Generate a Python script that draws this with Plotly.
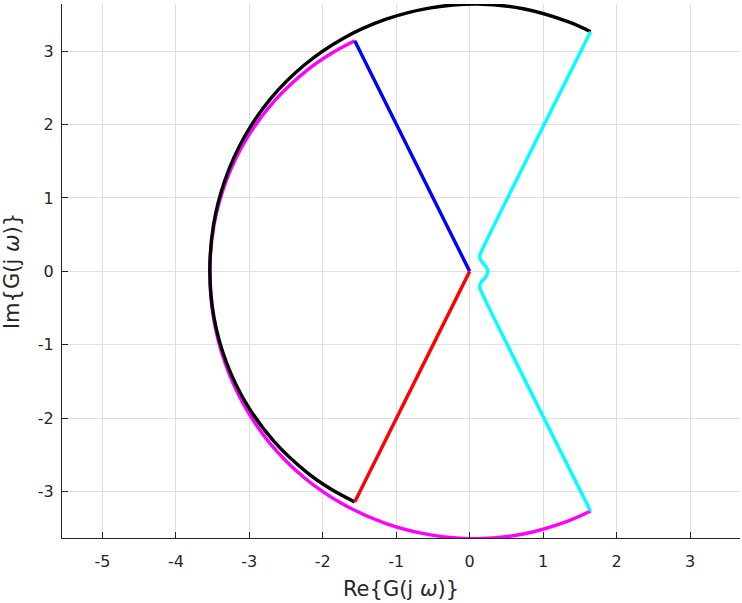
import plotly.graph_objects as go

# Black arc (large-|s| image), counter-clockwise from upper right to lower left
black_re = [1.646, 1.337, 0.730, 0.100, -0.532, -1.148, -1.729, -2.255, -2.707, -3.068,
            -3.330, -3.488, -3.537, -3.480, -3.311, -3.035, -2.661, -2.204, -1.896, -1.565]
black_im = [3.263, 3.399, 3.575, 3.640, 3.588, 3.430, 3.168, 2.807, 2.356, 1.829,
            1.248, 0.632, 0.000, -0.631, -1.241, -1.810, -2.317, -2.746, -2.960, -3.140]

# Magenta arc (mirror branch), from upper left round to lower right
magenta_re = [-1.565, -1.896, -2.204, -2.661, -3.035, -3.311, -3.480, -3.537, -3.488, -3.330,
              -3.068, -2.707, -2.255, -1.729, -1.148, -0.532, 0.100, 0.730, 1.337, 1.646]
magenta_im = [3.140, 2.960, 2.746, 2.317, 1.810, 1.241, 0.631, 0.000, -0.632, -1.248,
              -1.829, -2.356, -2.807, -3.168, -3.430, -3.588, -3.640, -3.575, -3.399, -3.263]

# Blue / red radial segments
blue_re = [0.0, -1.565]
blue_im = [0.0, 3.140]
red_re = [0.0, -1.565]
red_im = [0.0, -3.140]

# Cyan branch with small indentation near the origin
cyan_re = [1.646, 0.159, 0.136, 0.154, 0.204, 0.241, 0.241, 0.204, 0.154, 0.136, 0.159, 1.646]
cyan_im = [3.263, 0.269, 0.211, 0.147, 0.088, 0.030, -0.034, -0.093, -0.152, -0.215, -0.275, -3.263]

x_ticks = [-5, -4, -3, -2, -1, 0, 1, 2, 3]
x_tick_labels = ["-5", "-4", "-3", "-2", "-1", "0", "1", "2", "3"]
y_ticks = [-3, -2, -1, 0, 1, 2, 3]
y_tick_labels = ["-3", "-2", "-1", "0", "1", "2", "3"]

LW = 3.4
fig = go.Figure()
fig.add_trace(go.Scatter(x=magenta_re, y=magenta_im, mode="lines",
                         line=dict(color="#ff00ff", width=LW, shape="spline")))
fig.add_trace(go.Scatter(x=black_re, y=black_im, mode="lines",
                         line=dict(color="#000000", width=LW, shape="spline")))
fig.add_trace(go.Scatter(x=blue_re, y=blue_im, mode="lines",
                         line=dict(color="#0000ff", width=LW)))
fig.add_trace(go.Scatter(x=red_re, y=red_im, mode="lines",
                         line=dict(color="#ff0000", width=LW)))
fig.add_trace(go.Scatter(x=cyan_re, y=cyan_im, mode="lines",
                         line=dict(color="#00ffff", width=LW, shape="spline", smoothing=1.0)))

axis_common = dict(
    showgrid=True, gridcolor="#dfdfdf", gridwidth=1,
    zeroline=False, showline=True, linecolor="#262626", linewidth=1,
    ticks="inside", ticklen=6, tickcolor="#262626",
    tickfont=dict(family="DejaVu Sans", size=16, color="#262626"),
    mirror=False, automargin=False,
)

fig.update_layout(
    width=742, height=603,
    margin=dict(l=62, r=2, t=4, b=65),
    paper_bgcolor="white", plot_bgcolor="white",
    showlegend=False,
    xaxis=dict(range=[-5.55, 3.68], tickvals=x_ticks, ticktext=x_tick_labels,
               ticklabelstandoff=9,
               title=dict(text="Re{G(j <i>ω</i>)}", standoff=11,
                          font=dict(family="DejaVu Sans", size=21, color="#262626")),
               **axis_common),
    yaxis=dict(range=[-3.63, 3.64], tickvals=y_ticks, ticktext=y_tick_labels,
               ticklabelstandoff=4,
               title=dict(text="Im{G(j <i>ω</i>)}", standoff=12,
                          font=dict(family="DejaVu Sans", size=21, color="#262626")),
               **axis_common),
)

fig.write_html("out.html", config={"displayModeBar": False},
               post_script="document.body.style.margin='0px';")
